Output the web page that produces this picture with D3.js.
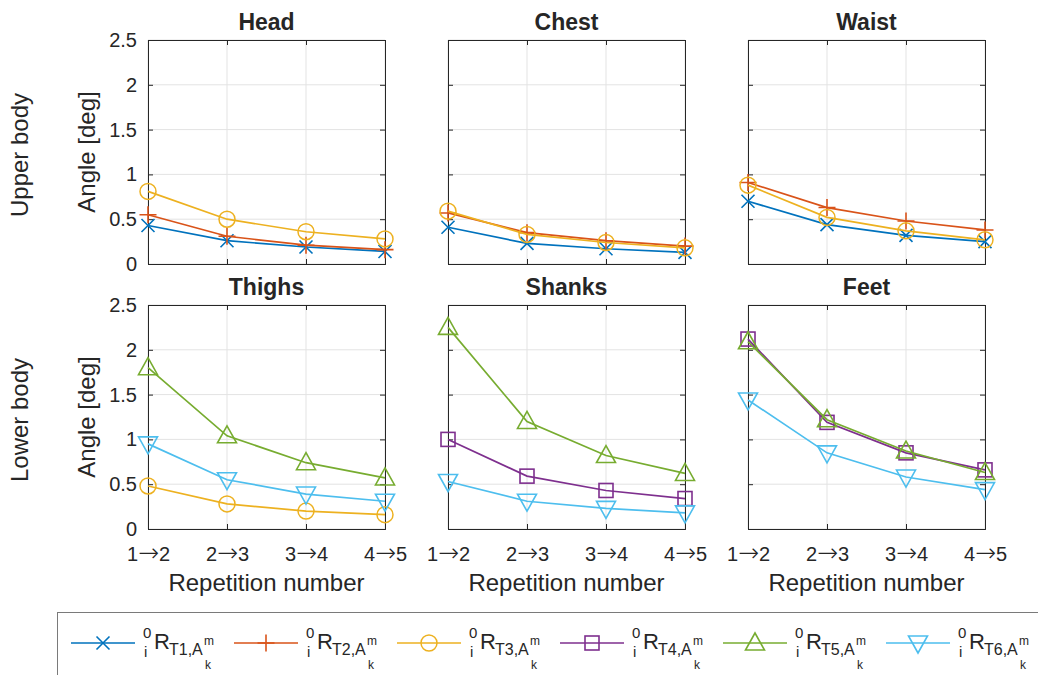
<!DOCTYPE html>
<html>
<head>
<meta charset="utf-8">
<script src="https://cdn.jsdelivr.net/npm/d3@7"></script>
<style>
  body { margin: 0; background: #fff; }
  text { font-family: "Liberation Sans", Arial, sans-serif; fill: #262626; }
</style>
</head>
<body>
<div id="container"></div>
<script>
var width = 1038,
    height = 675;

// x categories and y ticks
var steps = ["1\u21922", "2\u21923", "3\u21924", "4\u21925"];
var yTicks = [0, 0.5, 1, 1.5, 2, 2.5];

// series names / colours (MATLAB default order)
var seriesNames = ["T1", "T2", "T3", "T4", "T5", "T6"];
var colors = ["#0072BD", "#D95319", "#EDB120", "#7E2F8E", "#77AC30", "#4DBEEE"];
var markers = ["x", "plus", "circle", "square", "triUp", "triDown"];

// values
var headT1 = [0.43, 0.26, 0.19, 0.14];
var headT2 = [0.55, 0.31, 0.21, 0.16];
var headT3 = [0.81, 0.50, 0.36, 0.28];

var chestT1 = [0.41, 0.23, 0.17, 0.13];
var chestT2 = [0.57, 0.35, 0.26, 0.20];
var chestT3 = [0.59, 0.33, 0.24, 0.18];

var waistT1 = [0.70, 0.44, 0.32, 0.25];
var waistT2 = [0.91, 0.63, 0.48, 0.38];
var waistT3 = [0.88, 0.52, 0.37, 0.27];

var thighsT3 = [0.48, 0.28, 0.20, 0.16];
var thighsT5 = [1.80, 1.04, 0.74, 0.57];
var thighsT6 = [0.95, 0.55, 0.39, 0.31];

var shanksT4 = [1.00, 0.59, 0.43, 0.34];
var shanksT5 = [2.25, 1.20, 0.82, 0.62];
var shanksT6 = [0.53, 0.31, 0.23, 0.18];

var feetT4 = [2.12, 1.19, 0.85, 0.66];
var feetT5 = [2.09, 1.22, 0.87, 0.63];
var feetT6 = [1.44, 0.85, 0.58, 0.44];

var panels = [
    { title: "Head",   row: 0, col: 0, lines: [[0, headT1], [1, headT2], [2, headT3]] },
    { title: "Chest",  row: 0, col: 1, lines: [[0, chestT1], [1, chestT2], [2, chestT3]] },
    { title: "Waist",  row: 0, col: 2, lines: [[0, waistT1], [1, waistT2], [2, waistT3]] },
    { title: "Thighs", row: 1, col: 0, lines: [[2, thighsT3], [4, thighsT5], [5, thighsT6]] },
    { title: "Shanks", row: 1, col: 1, lines: [[3, shanksT4], [4, shanksT5], [5, shanksT6]] },
    { title: "Feet",   row: 1, col: 2, lines: [[3, feetT4], [4, feetT5], [5, feetT6]] }
];
var rowLabels = ["Upper body", "Lower body"];

var svg = d3.select("#container").append("svg")
    .attr("width", width)
    .attr("height", height);

var colX = [148, 448, 748],
    pw = 237,
    rowY = [40, 305],
    ph = 224;

function drawMarker(g, type, color) {
    var s = 7;
    if (type == "circle") {
        g.append("circle").attr("r", 8).attr("fill", "none").attr("stroke", color).attr("stroke-width", 1.5);
    } else if (type == "x") {
        g.append("path").attr("d", "M-6.5,-6.5L6.5,6.5M-6.5,6.5L6.5,-6.5").attr("stroke", color).attr("stroke-width", 1.6);
    } else if (type == "plus") {
        g.append("path").attr("d", "M-8.5,0L8.5,0M0,-8.5L0,8.5").attr("stroke", color).attr("stroke-width", 1.6);
    } else if (type == "square") {
        g.append("rect").attr("x", -s).attr("y", -s).attr("width", 2 * s).attr("height", 2 * s)
            .attr("fill", "none").attr("stroke", color).attr("stroke-width", 1.6);
    } else if (type == "triUp") {
        g.append("path").attr("d", "M0,-10L9.5,7L-9.5,7Z").attr("fill", "none").attr("stroke", color).attr("stroke-width", 1.6);
    } else if (type == "triDown") {
        g.append("path").attr("d", "M0,10L9.5,-7L-9.5,-7Z").attr("fill", "none").attr("stroke", color).attr("stroke-width", 1.6);
    }
}

// tick label with a wide TeX-like arrow
function arrowLabel(sel) {
    sel.each(function(d) {
        var parts = d.split("\u2192");
        var t = d3.select(this).text(null);
        t.append("tspan").text(parts[0]);
        t.append("tspan").style("font-family", "'DejaVu Sans', sans-serif").attr("font-size", 25)
            .attr("font-weight", 200).text("\u2192");
        t.append("tspan").text(parts[1]);
    });
}

panels.forEach(function(p) {
    var x0 = colX[p.col], y0 = rowY[p.row];
    var x = d3.scalePoint().domain(steps).range([x0, x0 + pw]).padding(0);
    var y = d3.scaleLinear().domain([0, 2.5]).range([y0 + ph, y0]);

    var g = svg.append("g");

    // grid
    g.selectAll(".hg").data(yTicks).enter().append("line")
        .attr("x1", x0).attr("x2", x0 + pw)
        .attr("y1", d => y(d)).attr("y2", d => y(d))
        .attr("stroke", "#e3e3e3").attr("stroke-width", 1);
    g.selectAll(".vg").data(steps).enter().append("line")
        .attr("x1", d => x(d)).attr("x2", d => x(d))
        .attr("y1", y0).attr("y2", y0 + ph)
        .attr("stroke", "#e3e3e3").attr("stroke-width", 1);

    // axes, ticks inward
    var left = g.append("g").attr("transform", "translate(" + x0 + ",0)")
        .call(d3.axisLeft(y).tickValues(yTicks).tickSize(-5).tickPadding(11)
            .tickFormat(p.col == 0 ? d3.format("") : ""));
    var right = g.append("g").attr("transform", "translate(" + (x0 + pw) + ",0)")
        .call(d3.axisRight(y).tickValues(yTicks).tickSize(-5).tickFormat(""));
    var bottom = g.append("g").attr("transform", "translate(0," + (y0 + ph) + ")")
        .call(d3.axisBottom(x).tickSize(-5).tickPadding(18)
            .tickFormat(p.row == 1 ? (d => d) : ""));
    var top = g.append("g").attr("transform", "translate(0," + y0 + ")")
        .call(d3.axisTop(x).tickSize(-5).tickFormat(""));
    [left, right, bottom, top].forEach(function(a) {
        a.select(".domain").attr("stroke", "#262626").attr("stroke-width", 1);
        a.selectAll(".tick line").attr("stroke", "#262626");
        a.selectAll("text").attr("font-size", 20).attr("fill", "#262626")
            .style("font-family", "'Liberation Sans', Arial, sans-serif");
    });
    if (p.row == 1) bottom.selectAll(".tick text").call(arrowLabel);

    // series
    var line = d3.line().x((d, i) => x(steps[i])).y(d => y(d));
    p.lines.forEach(function(l) {
        var si = l[0], vals = l[1];
        g.append("path").datum(vals).attr("d", line)
            .attr("fill", "none").attr("stroke", colors[si]).attr("stroke-width", 1.7);
        vals.forEach(function(v, i) {
            var m = g.append("g").attr("transform", "translate(" + x(steps[i]) + "," + y(v) + ")");
            drawMarker(m, markers[si], colors[si]);
        });
    });

    // title
    g.append("text").attr("x", x0 + pw / 2).attr("y", y0 - 10)
        .attr("text-anchor", "middle").attr("font-size", 23).attr("font-weight", "bold")
        .attr("fill", "#000").text(p.title);

    if (p.row == 1) {
        g.append("text").attr("x", x0 + pw / 2).attr("y", y0 + ph + 62)
            .attr("text-anchor", "middle").attr("font-size", 24).text("Repetition number");
    }
    if (p.col == 0) {
        g.append("text").attr("transform", "translate(95," + (y0 + ph / 2) + ") rotate(-90)")
            .attr("text-anchor", "middle").attr("font-size", 24).text("Angle [deg]");
        g.append("text").attr("transform", "translate(28," + (y0 + ph / 2 + 3) + ") rotate(-90)")
            .attr("text-anchor", "middle").attr("font-size", 24).text(rowLabels[p.row]);
    }
});

// legend
var leg = svg.append("g");
leg.append("rect").attr("x", 57.5).attr("y", 612.5).attr("width", 1000).attr("height", 80)
    .attr("fill", "#fff").attr("stroke", "#7a7a7a").attr("stroke-width", 1);

seriesNames.forEach(function(name, i) {
    var lx = 71 + i * 163, ly = 643;
    leg.append("line").attr("x1", lx).attr("x2", lx + 64).attr("y1", ly).attr("y2", ly)
        .attr("stroke", colors[i]).attr("stroke-width", 1.7);
    var m = leg.append("g").attr("transform", "translate(" + (lx + 32) + "," + ly + ")");
    drawMarker(m, markers[i], colors[i]);
    var tx = lx + 72;
    leg.append("text").attr("x", tx).attr("y", 638).attr("font-size", 15).attr("fill", "#000").text("0");
    leg.append("text").attr("x", tx + 1).attr("y", 657).attr("font-size", 15).attr("fill", "#000").text("i");
    leg.append("text").attr("x", tx + 11).attr("y", 649).attr("font-size", 22).attr("fill", "#000").text("R");
    leg.append("text").attr("x", tx + 26).attr("y", 655).attr("font-size", 16).attr("fill", "#000").text(name + ",A");
    leg.append("text").attr("x", tx + 61).attr("y", 645).attr("font-size", 12).attr("fill", "#000").text("m");
    leg.append("text").attr("x", tx + 62).attr("y", 669).attr("font-size", 12).attr("fill", "#000").text("k");
});
</script>
</body>
</html>
